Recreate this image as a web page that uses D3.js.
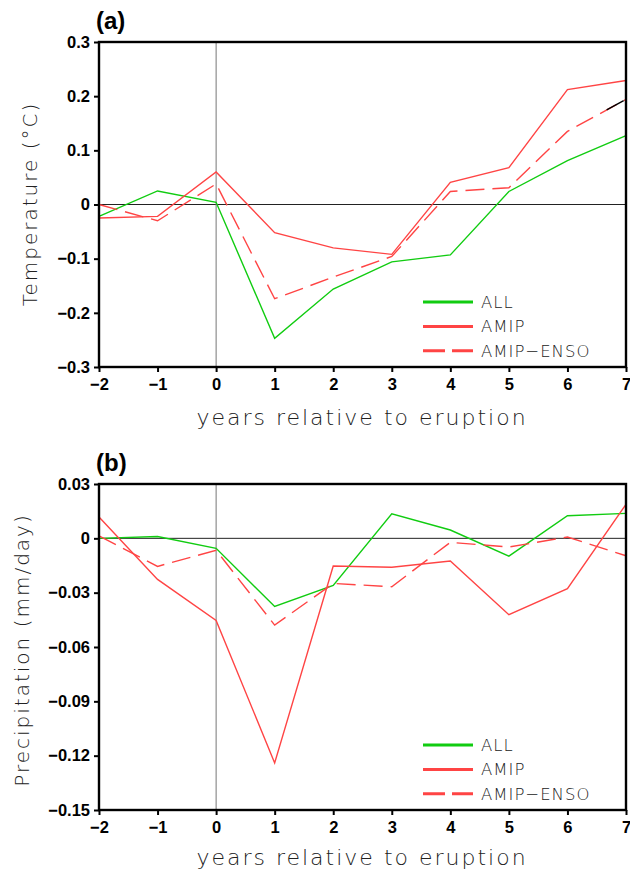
<!DOCTYPE html>
<html>
<head>
<meta charset="utf-8">
<style>
  body { margin: 0; background: #fff; }
  .tick text { font-family: "Liberation Sans", Arial, sans-serif; font-weight: bold; font-size: 16.5px; }
  .thin { font-family: "DejaVu Sans", sans-serif; font-weight: 200; fill: #222; }
</style>
</head>
<body>
<svg id="chart"></svg>
<script src="https://d3js.org/d3.v7.min.js"></script>
<script>

  var years = [-2, -1, 0, 1, 2, 3, 4, 5, 6, 7];

  // panel (a) temperature
  var tempAll = [-0.022, 0.025, 0.004, -0.247, -0.156, -0.106, -0.093, 0.024, 0.081, 0.127];
  var tempAmip = [-0.025, -0.022, 0.060, -0.052, -0.080, -0.092, 0.041, 0.068, 0.212, 0.229];
  var tempAmipEnso = [0.0, -0.030, 0.038, -0.174, -0.134, -0.096, 0.024, 0.031, 0.135, 0.194];
  var tempTicks = [-0.3, -0.2, -0.1, 0, 0.1, 0.2, 0.3];

  // panel (b) precipitation
  var precAll = [0.0, 0.001, -0.0055, -0.0376, -0.026, 0.0136, 0.0046, -0.0098, 0.0125, 0.0138];
  var precAmip = [0.0118, -0.0227, -0.0453, -0.124, -0.0153, -0.016, -0.0125, -0.0422, -0.0278, 0.0188];
  var precAmipEnso = [0.0013, -0.0155, -0.0066, -0.0479, -0.0249, -0.0267, -0.0022, -0.0048, 0.0007, -0.0096];
  var precTicks = [-0.15, -0.12, -0.09, -0.06, -0.03, 0, 0.03];

  var legendNames = ["ALL", "AMIP", "AMIP\u2212ENSO"];

  var green = "#11cc11";
  var red = "#ff4444";

  var svg = d3.select("#chart")
    .attr("width", 630)
    .attr("height", 874);

  var x = d3.scaleLinear().domain([-2, 7]).range([99, 626]);

  function fmt(d) {
    return String(d).replace("-", "\u2212");
  }

  function panel(opts) {
    var y = d3.scaleLinear().domain(opts.domain).range([opts.bottom, opts.top]);
    var g = svg.append("g");

    // zero lines
    g.append("line")
      .attr("x1", x(-2)).attr("x2", x(7))
      .attr("y1", y(0)).attr("y2", y(0))
      .attr("stroke", "#222").attr("stroke-width", 1);
    g.append("line")
      .attr("x1", x(0)).attr("x2", x(0))
      .attr("y1", opts.top).attr("y2", opts.bottom)
      .attr("stroke", "#777").attr("stroke-width", 1);

    var line = d3.line()
      .x(function(d, i) { return x(years[i]); })
      .y(function(d) { return y(d); });

    var series = [
      {values: opts.all, color: green, dash: null},
      {values: opts.amip, color: red, dash: null},
      {values: opts.enso, color: red, dash: "19,8"}
    ];

    g.selectAll("path.series")
      .data(series)
      .enter().append("path")
      .attr("class", "series")
      .attr("d", function(d) { return line(d.values); })
      .attr("fill", "none")
      .attr("stroke", function(d) { return d.color; })
      .attr("stroke-width", 1.4)
      .attr("stroke-dasharray", function(d) { return d.dash; });

    if (opts.blackTail) {
      // a short black piece near the end of the dashed curve
      var n = years.length;
      var seg = g.append("path")
        .attr("d", line.x(function(d, i) { return x(years[n - 2 + i]); })(opts.enso.slice(n - 2)))
        .attr("fill", "none")
        .attr("stroke", "#000")
        .attr("stroke-width", 1.4);
      var len = seg.node().getTotalLength();
      seg.attr("stroke-dasharray", "0," + (len * 0.67) + "," + (len * 0.29) + "," + len);
    }

    // axes
    g.append("g")
      .attr("transform", "translate(0," + opts.bottom + ")")
      .call(d3.axisBottom(x).tickValues(years).tickSize(5).tickPadding(6).tickFormat(fmt))
      .call(function(a) {
        a.select(".domain").remove();
        a.selectAll("line").attr("stroke-width", 2);
      });
    g.append("g")
      .attr("transform", "translate(99,0)")
      .call(d3.axisLeft(y).tickValues(opts.ticks).tickSize(5).tickPadding(4).tickFormat(fmt))
      .call(function(a) {
        a.select(".domain").remove();
        a.selectAll("line").attr("stroke-width", 2);
      });

    // frame
    g.append("rect")
      .attr("x", x(-2)).attr("y", opts.top)
      .attr("width", x(7) - x(-2)).attr("height", opts.bottom - opts.top)
      .attr("fill", "none").attr("stroke", "#000").attr("stroke-width", 2.4);

    // legend
    var lg = g.selectAll("g.leg")
      .data(series)
      .enter().append("g")
      .attr("transform", function(d, i) { return "translate(423," + (opts.legendY + i * 24.4) + ")"; });
    lg.append("line")
      .attr("x1", 0).attr("x2", 50)
      .attr("stroke", function(d) { return d.color; })
      .attr("stroke-width", 3)
      .attr("stroke-dasharray", function(d) { return d.dash ? "22,7" : null; });
    lg.append("text")
      .attr("class", "thin")
      .attr("x", 58).attr("y", 6)
      .attr("font-size", "16.5px")
      .attr("letter-spacing", "1px")
      .text(function(d, i) { return legendNames[i]; });

    // titles
    g.append("text")
      .attr("class", "thin")
      .attr("x", 362).attr("y", opts.bottom + opts.xtitleGap)
      .attr("text-anchor", "middle")
      .attr("font-size", "22px")
      .attr("letter-spacing", "2px")
      .text("years relative to eruption");
    g.append("text")
      .attr("class", "thin")
      .attr("transform", "translate(" + opts.ytitleX + "," + opts.ytitleY + ") rotate(-90)")
      .attr("text-anchor", "middle")
      .attr("font-size", "20px")
      .attr("letter-spacing", "2px")
      .text(opts.ytitle);
    g.append("text")
      .attr("x", 96).attr("y", opts.top - 13)
      .attr("font-family", "Liberation Sans, Arial, sans-serif")
      .attr("font-weight", "bold")
      .attr("font-size", "24px")
      .text(opts.label);
  }

  panel({
    domain: [-0.3, 0.3], top: 42, bottom: 367, ticks: tempTicks,
    all: tempAll, amip: tempAmip, enso: tempAmipEnso,
    legendY: 302, ytitle: "Temperature (\u00B0C)", ytitleX: 37, ytitleY: 204,
    xtitleGap: 58, label: "(a)", blackTail: true
  });

  panel({
    domain: [-0.15, 0.03], top: 484, bottom: 810, ticks: precTicks,
    all: precAll, amip: precAmip, enso: precAmipEnso,
    legendY: 745, ytitle: "Precipitation (mm/day)", ytitleX: 29, ytitleY: 650,
    xtitleGap: 55, label: "(b)", blackTail: false
  });

</script>
</body>
</html>
